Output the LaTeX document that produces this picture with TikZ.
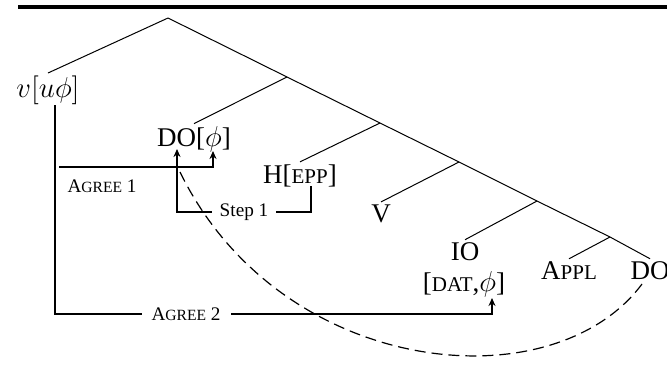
\documentclass[tikz,border=0pt]{standalone}
\usepackage{fontspec}
\setmainfont{Liberation Serif}
\usetikzlibrary{arrows.meta,positioning}
\newcommand{\fsc}[1]{{\fontsize{10.5}{12}\selectfont #1}}
\newcommand{\lsc}[1]{{\fontsize{7.8}{9}\selectfont #1}}

\begin{document}
\begin{tikzpicture}[
    x=0.5pt, y=-0.5pt,
    every node/.style={font=\fontsize{13.5}{16}\selectfont, inner sep=1pt},
    word/.style={anchor=base},
    branch/.style={line width=0.5pt},
    arr/.style={-{Stealth[length=4pt,width=3.5pt]}, line width=0.7pt},
    lab/.style={font=\fontsize{9.6}{11}\selectfont, fill=white, inner ysep=1pt},
    move/.style={dash pattern=on 5.5pt off 3pt, line width=0.6pt}
]
\useasboundingbox (0,0) rectangle (667,365);
\fill (18,5) rectangle (667,9);

% tree
\coordinate (top) at (168,18);
\coordinate (x1) at (287,77);
\coordinate (x2) at (380,123);
\coordinate (x3) at (459,162);
\coordinate (x4) at (537,201);
\coordinate (x5) at (610,237);

\node[word] (vuphi) at (48,97) {$v[u\phi]$};
\node[word] (dophi) at (194,146) {DO[$\phi$]};
\node[word] (hepp) at (300,183) {H[\fsc{EPP}]};
\node[word] (verb) at (381,222) {V};
\node[word] (io) at (465,260) {IO};
\node[word] (datphi) at (464,291) {[\fsc{DAT},$\phi$]};
\node[word] (appl) at (569,279) {A\fsc{PPL}};
\node[word] (dob) at (650,279) {DO};

\draw[branch] (top) -- (x1) -- (x2) -- (x3) -- (x4) -- (x5) -- (dob.north);
\draw[branch] (top) -- (vuphi.north);
\draw[branch] (x1) -- (dophi.north);
\draw[branch] (x2) -- (hepp.north);
\draw[branch] (x3) -- (verb.north);
\draw[branch] (x4) -- (io.north);
\draw[branch] (x5) -- (appl.north);

% agree and movement
\coordinate (d-tip) at (177,149);
\coordinate (phi-tip) at (213,151);
\coordinate (dat-tip) at (492,298);
\coordinate (a1) at (59,167);
\coordinate (v-foot) at (55,105);
\coordinate (h-foot) at (311,186);
\coordinate (s1bend) at (177,212);
\coordinate (a2bend) at (492,314);
\coordinate (d-foot) at (180,172);
\coordinate (do-foot) at (642,284);

\draw[arr] (a1) -| (phi-tip);
\node[word, font=\fontsize{9.6}{11}\selectfont] (agree1) at (102,192) {A\lsc{GREE} 1};

\draw[arr] (h-foot) |- node[lab, pos=0.75, inner xsep=3.75pt] (step1) {Step 1} (s1bend) -- (d-tip);
\draw[arr] (v-foot) |- node[lab, pos=0.65, inner xsep=5pt] (agree2) {A\lsc{GREE} 2} (a2bend) -- (dat-tip);

\draw[move] (do-foot) .. controls (552,405) and (280,377) .. (d-foot);
\end{tikzpicture}
\end{document}
